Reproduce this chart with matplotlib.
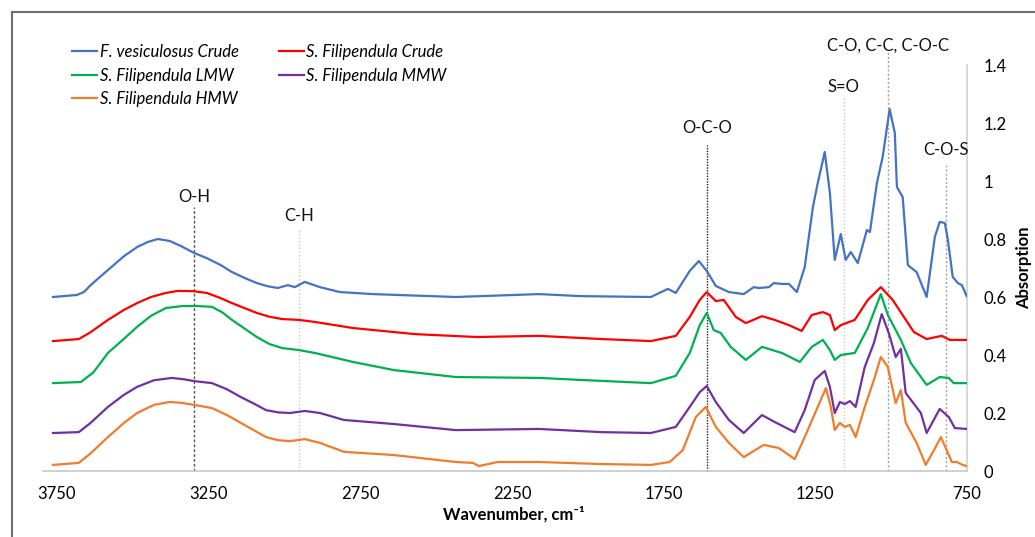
import numpy as np
import matplotlib
matplotlib.use("Agg")
import matplotlib.pyplot as plt
from matplotlib.lines import Line2D

plt.rcParams['font.family'] = ['Lato', 'DejaVu Sans']

# FTIR spectra: (wavenumber cm-1, absorption)
fves_crude_w = [3763, 3684, 3660, 3640, 3582, 3530, 3486, 3450, 3417, 3378, 3340, 3298, 3256, 3210, 3173, 3130,
                3091, 3055, 3022, 2989, 2966, 2933, 2883, 2817,
                2709, 2435, 2161, 2023, 1792, 1736, 1710, 1664, 1634, 1608, 1578, 1535, 1486, 1453, 1436, 1403,
                1387, 1360, 1337, 1311, 1285, 1258, 1242, 1219, 1202, 1186, 1166, 1150, 1133, 1110, 1080, 1070,
                1047, 1028, 1005, 988, 981, 962, 945, 916, 883, 856, 840, 823, 813, 797, 780, 767, 751]
fves_crude_a = [0.600, 0.607, 0.618, 0.640, 0.693, 0.740, 0.772, 0.790, 0.800, 0.793, 0.775, 0.752, 0.734, 0.710,
                0.686, 0.665, 0.648, 0.637, 0.631, 0.641, 0.634, 0.652,
                0.634, 0.617, 0.610, 0.600, 0.610, 0.603, 0.600, 0.628, 0.614, 0.690, 0.724, 0.690, 0.638, 0.617,
                0.610, 0.634, 0.631, 0.634, 0.648, 0.645, 0.645, 0.617, 0.703, 0.910, 0.993, 1.100, 0.959, 0.728,
                0.817, 0.728, 0.755, 0.717, 0.831, 0.824, 0.993, 1.083, 1.248, 1.166, 0.979, 0.945, 0.710, 0.686,
                0.600, 0.807, 0.859, 0.855, 0.797, 0.669, 0.648, 0.641, 0.603]

sf_crude_w = [3763, 3678, 3640, 3582, 3530, 3486, 3440, 3391, 3351, 3300, 3256, 3215, 3173, 3130, 3091, 3050,
              3008, 2952, 2900, 2774, 2570, 2366, 2161,
              1954, 1792, 1710, 1664, 1631, 1608, 1578, 1552, 1512, 1479, 1426, 1384, 1337, 1295, 1262, 1225,
              1202, 1186, 1166, 1120, 1077, 1034, 995, 958, 925, 883, 833, 807, 764, 751]
sf_crude_a = [0.448, 0.455, 0.478, 0.521, 0.555, 0.579, 0.600, 0.614, 0.621, 0.620, 0.614, 0.598, 0.579, 0.561,
              0.545, 0.532, 0.524, 0.521, 0.514, 0.493, 0.472,
              0.462, 0.466, 0.455, 0.448, 0.466, 0.531, 0.590, 0.617, 0.586, 0.590, 0.531, 0.510, 0.534, 0.521,
              0.503, 0.483, 0.538, 0.548, 0.538, 0.486, 0.503, 0.521, 0.590, 0.634, 0.590, 0.531, 0.479, 0.455,
              0.466, 0.452, 0.452, 0.452]

sf_lmw_w = [3763, 3671, 3630, 3582, 3530, 3486, 3440, 3391, 3335, 3290, 3239, 3205, 3173, 3130, 3091, 3050,
            3008, 2952, 2900, 2774, 2639, 2435, 2161,
            2023, 1792, 1710, 1664, 1631, 1608, 1585, 1562, 1529, 1479, 1426, 1360, 1301, 1262, 1225, 1202,
            1186, 1166, 1120, 1077, 1034, 1011, 968, 935, 883, 840, 810, 794, 751]
sf_lmw_a = [0.303, 0.307, 0.340, 0.407, 0.455, 0.497, 0.535, 0.562, 0.569, 0.569, 0.566, 0.547, 0.521, 0.490,
            0.462, 0.438, 0.424, 0.417, 0.407, 0.376, 0.348,
            0.324, 0.321, 0.314, 0.303, 0.328, 0.407, 0.503, 0.545, 0.486, 0.476, 0.428, 0.383, 0.428, 0.407,
            0.376, 0.428, 0.452, 0.417, 0.383, 0.400, 0.407, 0.493, 0.610, 0.538, 0.452, 0.372, 0.297, 0.324,
            0.321, 0.303, 0.303]

sf_mmw_w = [3763, 3678, 3640, 3582, 3530, 3486, 3430, 3371, 3330, 3298, 3239, 3190, 3144, 3100, 3061, 3020,
            2982, 2933, 2883, 2804, 2639, 2435, 2161,
            1954, 1792, 1710, 1664, 1631, 1608, 1578, 1535, 1486, 1426, 1384, 1318, 1285, 1252, 1219, 1202,
            1186, 1169, 1153, 1136, 1117, 1087, 1057, 1031, 1008, 985, 968, 952, 902, 883, 840, 810, 790, 751]
sf_mmw_a = [0.131, 0.134, 0.165, 0.221, 0.262, 0.290, 0.313, 0.321, 0.316, 0.310, 0.303, 0.282, 0.255, 0.232,
            0.210, 0.202, 0.200, 0.207, 0.200, 0.176, 0.162,
            0.141, 0.145, 0.134, 0.131, 0.152, 0.221, 0.272, 0.293, 0.238, 0.176, 0.131, 0.193, 0.169, 0.134,
            0.210, 0.314, 0.345, 0.290, 0.200, 0.238, 0.231, 0.241, 0.221, 0.359, 0.441, 0.541, 0.476, 0.393,
            0.421, 0.269, 0.200, 0.131, 0.214, 0.186, 0.148, 0.145]

sf_hmw_w = [3763, 3678, 3640, 3582, 3530, 3486, 3430, 3378, 3340, 3298, 3239, 3190, 3144, 3100, 3061, 3020,
            2982, 2933, 2883, 2804, 2639, 2435, 2379,
            2359, 2297, 2161, 1954, 1792, 1730, 1687, 1644, 1611, 1578, 1535, 1486, 1420, 1370, 1318, 1285,
            1242, 1215, 1199, 1186, 1169, 1153, 1136, 1117, 1087, 1057, 1034, 1011, 985, 968, 952, 916, 886,
            859, 836, 817, 800, 784, 764, 751]
sf_hmw_a = [0.021, 0.028, 0.060, 0.117, 0.165, 0.200, 0.228, 0.238, 0.235, 0.228, 0.217, 0.193, 0.166, 0.140,
            0.117, 0.106, 0.103, 0.110, 0.097, 0.066, 0.055,
            0.031, 0.028, 0.017, 0.031, 0.031, 0.024, 0.021, 0.031, 0.072, 0.186, 0.221, 0.152, 0.097, 0.048,
            0.090, 0.079, 0.041, 0.117, 0.221, 0.286, 0.221, 0.141, 0.166, 0.152, 0.159, 0.117, 0.221, 0.314,
            0.393, 0.359, 0.234, 0.279, 0.166, 0.097, 0.021, 0.072, 0.117, 0.072, 0.031, 0.031, 0.021, 0.017]

# band assignments: label, wavenumber, top of marker line, label height
band_labels = ['O-H', 'C-H', 'O-C-O', 'S=O', 'C-O, C-C, C-O-C', 'C-O-S']
band_pos = [3298, 2952, 1608, 1156, 1011, 820]
band_top = [0.91, 0.83, 1.124, 1.286, 1.445, 1.055]
band_text_y = [0.945, 0.88, 1.183, 1.324, 1.466, 1.107]
band_colors = ['#555555', '#c8c8c8', '#222222', '#c8c8c8', '#a0a0a0', '#a0a0a0']
band_styles = [(0, (2, 1.5)), (0, (1, 1.5)), (0, (1, 1)), (0, (1, 1.5)), (0, (1.5, 1.5)), (0, (1.5, 1.5))]

x_ticks = [3750, 3250, 2750, 2250, 1750, 1250, 750]
y_ticks = [0, 0.2, 0.4, 0.6, 0.8, 1.0, 1.2, 1.4]
y_ticklabels = ['0', '0.2', '0.4', '0.6', '0.8', '1', '1.2', '1.4']

fig = plt.figure(figsize=(10.35, 5.37), dpi=100, facecolor='white')
ax = fig.add_axes((43/1035, 66/537, 924/1035, 406/537))

series = [
    (fves_crude_w, fves_crude_a, '#4472C4', 'F. vesiculosus Crude'),
    (sf_lmw_w, sf_lmw_a, '#00B050', 'S. Filipendula LMW'),
    (sf_hmw_w, sf_hmw_a, '#F07C2C', 'S. Filipendula HMW'),
    (sf_crude_w, sf_crude_a, '#FF0000', 'S. Filipendula Crude'),
    (sf_mmw_w, sf_mmw_a, '#7030A0', 'S. Filipendula MMW'),
]

# marker lines first so spectra sit on top
for lab, w, top, ty, c, ls in zip(band_labels, band_pos, band_top, band_text_y, band_colors, band_styles):
    ax.plot([w, w], [0, top], color=c, lw=1.0, ls=ls, clip_on=False, zorder=1)
    ax.text(w, ty, lab, ha='center', va='center', fontsize=12, color='#111111', clip_on=False)

for w, a, c, lab in series:
    ax.plot(w, a, color=c, lw=1.6, label=lab, solid_joinstyle='round', zorder=3)

ax.set_xlim(3796, 750)
ax.set_ylim(0, 1.4)
ax.set_xticks(x_ticks)
ax.set_xticklabels([str(t) for t in x_ticks], fontsize=12)
ax.set_yticks(y_ticks)
ax.set_yticklabels(y_ticklabels, fontsize=12)
ax.yaxis.tick_right()
ax.yaxis.set_label_position('right')
ax.tick_params(axis='both', length=0)
ax.tick_params(axis='x', pad=11)
ax.tick_params(axis='y', pad=12)
for lbl in ax.get_yticklabels():
    lbl.set_ha('left')

for s in ['top', 'left']:
    ax.spines[s].set_visible(False)
ax.spines['right'].set_color('#d0d0d0')
ax.spines['bottom'].set_color('#c8c8c8')
ax.spines['right'].set_linewidth(1.2)
ax.spines['bottom'].set_linewidth(1.2)

ax.set_xlabel('Wavenumber, cm⁻¹', fontsize=12, fontweight='bold')
ax.xaxis.set_label_coords(0.509, -0.087)
ax.set_ylabel('Absorption', fontsize=12, fontweight='bold', labelpad=7)

leg = fig.legend(loc='upper left', bbox_to_anchor=(72/1035, 1 - 44/537), ncol=2, frameon=False,
                 prop={'style': 'italic', 'size': 12}, handlelength=1.5, handletextpad=0.15,
                 columnspacing=2.4, labelspacing=0.45, borderpad=0, borderaxespad=0)

# outer frame of the figure panel
fig.add_artist(Line2D([12/1035, 12/1035], [0, 1 - 12/537], transform=fig.transFigure, color='#6e6e6e', lw=1.5))
fig.add_artist(Line2D([12/1035, 1], [1 - 12/537, 1 - 12/537], transform=fig.transFigure, color='#6e6e6e', lw=1.5))

fig.savefig('out.png', dpi=100, facecolor='white')
